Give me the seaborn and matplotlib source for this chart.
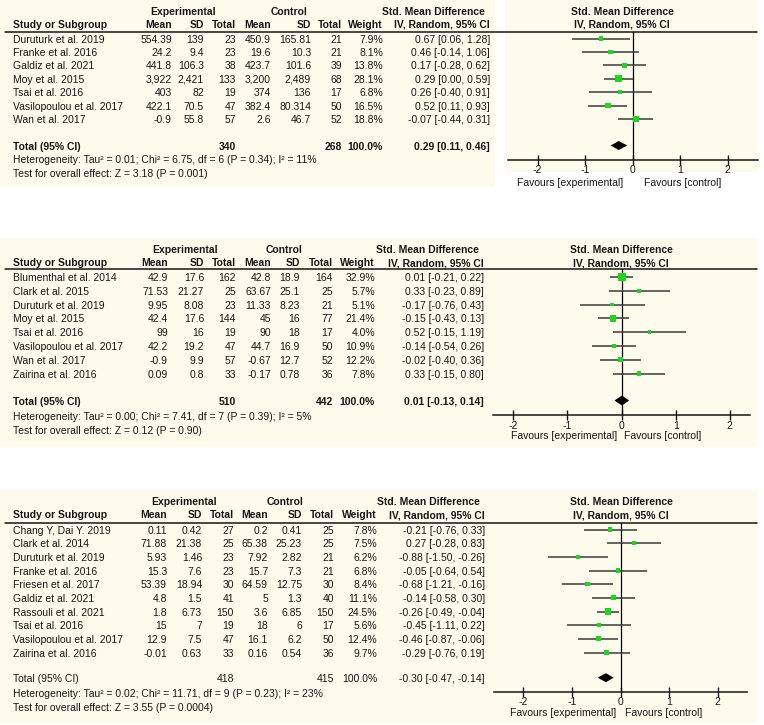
import matplotlib
matplotlib.use("Agg")
import matplotlib.pyplot as plt
from matplotlib.patches import Rectangle
import pandas as pd
import seaborn as sns

# ---------------------------------------------------------------------------
# Data
# ---------------------------------------------------------------------------
# Panel 1
p1_study = ["Duruturk et al. 2019", "Franke et al. 2016", "Galdiz et al. 2021",
            "Moy et al. 2015", "Tsai et al. 2016", "Vasilopoulou et al. 2017",
            "Wan et al. 2017"]
p1_exp_mean = ["554.39", "24.2", "441.8", "3,922", "403", "422.1", "-0.9"]
p1_exp_sd = ["139", "9.4", "106.3", "2,421", "82", "70.5", "55.8"]
p1_exp_n = [23, 23, 38, 133, 19, 47, 57]
p1_ctl_mean = ["450.9", "19.6", "423.7", "3,200", "374", "382.4", "2.6"]
p1_ctl_sd = ["165.81", "10.3", "101.6", "2,489", "136", "80.314", "46.7"]
p1_ctl_n = [21, 21, 39, 68, 17, 50, 52]
p1_weight = [7.9, 8.1, 13.8, 28.1, 6.8, 16.5, 18.8]
p1_smd = [0.67, 0.46, 0.17, 0.29, 0.26, 0.52, -0.07]
p1_lo = [0.06, -0.14, -0.28, 0.00, -0.40, 0.11, -0.44]
p1_hi = [1.28, 1.06, 0.62, 0.59, 0.91, 0.93, 0.31]
p1_total_n = [340, 268]
p1_pooled = [0.29, 0.11, 0.46]
p1_het = "Heterogeneity: Tau² = 0.01; Chi² = 6.75, df = 6 (P = 0.34); I² = 11%"
p1_test = "Test for overall effect: Z = 3.18 (P = 0.001)"
# in the source the forest of panel 1 is drawn mirrored around zero
p1_sign = -1

# Panel 2
p2_study = ["Blumenthal et al. 2014", "Clark et al. 2015", "Duruturk et al. 2019",
            "Moy et al. 2015", "Tsai et al. 2016", "Vasilopoulou et al. 2017",
            "Wan et al. 2017", "Zairina et al. 2016"]
p2_exp_mean = ["42.9", "71.53", "9.95", "42.4", "99", "42.2", "-0.9", "0.09"]
p2_exp_sd = ["17.6", "21.27", "8.08", "17.6", "16", "19.2", "9.9", "0.8"]
p2_exp_n = [162, 25, 23, 144, 19, 47, 57, 33]
p2_ctl_mean = ["42.8", "63.67", "11.33", "45", "90", "44.7", "-0.67", "-0.17"]
p2_ctl_sd = ["18.9", "25.1", "8.23", "16", "18", "16.9", "12.7", "0.78"]
p2_ctl_n = [164, 25, 21, 77, 17, 50, 52, 36]
p2_weight = [32.9, 5.7, 5.1, 21.4, 4.0, 10.9, 12.2, 7.8]
p2_smd = [0.01, 0.33, -0.17, -0.15, 0.52, -0.14, -0.02, 0.33]
p2_lo = [-0.21, -0.23, -0.76, -0.43, -0.15, -0.54, -0.40, -0.15]
p2_hi = [0.22, 0.89, 0.43, 0.13, 1.19, 0.26, 0.36, 0.80]
p2_total_n = [510, 442]
p2_pooled = [0.01, -0.13, 0.14]
p2_het = "Heterogeneity: Tau² = 0.00; Chi² = 7.41, df = 7 (P = 0.39); I² = 5%"
p2_test = "Test for overall effect: Z = 0.12 (P = 0.90)"
p2_sign = 1

# Panel 3
p3_study = ["Chang Y, Dai Y. 2019", "Clark et al. 2014", "Duruturk et al. 2019",
            "Franke et al. 2016", "Friesen et al. 2017", "Galdiz et al. 2021",
            "Rassouli et al. 2021", "Tsai et al. 2016", "Vasilopoulou et al. 2017",
            "Zairina et al. 2016"]
p3_exp_mean = ["0.11", "71.88", "5.93", "15.3", "53.39", "4.8", "1.8", "15", "12.9", "-0.01"]
p3_exp_sd = ["0.42", "21.38", "1.46", "7.6", "18.94", "1.5", "6.73", "7", "7.5", "0.63"]
p3_exp_n = [27, 25, 23, 23, 30, 41, 150, 19, 47, 33]
p3_ctl_mean = ["0.2", "65.38", "7.92", "15.7", "64.59", "5", "3.6", "18", "16.1", "0.16"]
p3_ctl_sd = ["0.41", "25.23", "2.82", "7.3", "12.75", "1.3", "6.85", "6", "6.2", "0.54"]
p3_ctl_n = [25, 25, 21, 21, 30, 40, 150, 17, 50, 36]
p3_weight = [7.8, 7.5, 6.2, 6.8, 8.4, 11.1, 24.5, 5.6, 12.4, 9.7]
p3_smd = [-0.21, 0.27, -0.88, -0.05, -0.68, -0.14, -0.26, -0.45, -0.46, -0.29]
p3_lo = [-0.76, -0.28, -1.50, -0.64, -1.21, -0.58, -0.49, -1.11, -0.87, -0.76]
p3_hi = [0.33, 0.83, -0.26, 0.54, -0.16, 0.30, -0.04, 0.22, -0.06, 0.19]
p3_total_n = [418, 415]
p3_pooled = [-0.30, -0.47, -0.14]
p3_het = "Heterogeneity: Tau² = 0.02; Chi² = 11.71, df = 9 (P = 0.23); I² = 23%"
p3_test = "Test for overall effect: Z = 3.55 (P = 0.0004)"
p3_sign = 1

TICKS = [-2, -1, 0, 1, 2]

# ---------------------------------------------------------------------------
# Layout in pixels (figure is 764 x 725)
# ---------------------------------------------------------------------------
W, H = 764, 725
CREAM = "#fdfcec"
INK = "#161616"
GREEN = "#22d322"
FS = 7.5

LAYOUT = [
    dict(cream=[(0, 0, 495, 187), (505, 0, 253, 172)],
         head1=11.5, head2=24.5, line=31.5, row0=38.5, step=13.4, total=145.5,
         het=160, test=173.5, axis=159.5, fav=182.5, x0=632.5, unit=47.5,
         ax_l=508, ax_r=758, cols=[172, 204, 236, 271, 311, 342, 383, 490],
         exp_c=183, ctl_c=289.5, smd_c=622, fav_r=623, fav_l=644,
         bold_total=True, dh=4.5),
    dict(cream=[(0, 238, 757, 209)],
         head1=250, head2=263, line=269.3, row0=277, step=13.8, total=400.5,
         het=417, test=431, axis=415, fav=436, x0=621.5, unit=54.15,
         ax_l=493, ax_r=750, cols=[168, 204, 236, 271, 300, 333, 375, 484],
         exp_c=185, ctl_c=284.5, smd_c=621, fav_r=617, fav_l=624,
         bold_total=True, dh=5),
    dict(cream=[(0, 490, 757, 233)],
         head1=501.7, head2=515.3, line=522.5, row0=529.5, step=13.67, total=677.7,
         het=694.3, test=707.7, axis=691.7, fav=713.3, x0=620.5, unit=48.6,
         ax_l=494, ax_r=747, cols=[167, 202, 234, 268, 302, 334, 377, 485],
         exp_c=184.5, ctl_c=285, smd_c=621, fav_r=616, fav_l=625,
         bold_total=False, dh=4.5),
]


def marker_area(w):
    # square area (pt^2) grows with study weight, with a minimum visible size
    return 3.2 + 0.79 * w


def panel_frame(study, exp_mean, exp_sd, exp_n, ctl_mean, ctl_sd, ctl_n,
                weight, smd, lo, hi, sign):
    df = pd.DataFrame({
        "study": study, "exp_mean": exp_mean, "exp_sd": exp_sd, "exp_n": exp_n,
        "ctl_mean": ctl_mean, "ctl_sd": ctl_sd, "ctl_n": ctl_n,
        "weight": weight, "smd": smd, "lo": lo, "hi": hi,
    })
    # plotted positions (panel 1 is mirrored in the source)
    if sign < 0:
        df["x"] = -df["smd"]
        df["x_lo"] = -df["hi"]
        df["x_hi"] = -df["lo"]
    else:
        df["x"] = df["smd"]
        df["x_lo"] = df["lo"]
        df["x_hi"] = df["hi"]
    return df


PANELS = [
    (panel_frame(p1_study, p1_exp_mean, p1_exp_sd, p1_exp_n, p1_ctl_mean, p1_ctl_sd,
                 p1_ctl_n, p1_weight, p1_smd, p1_lo, p1_hi, p1_sign),
     p1_total_n, p1_pooled, p1_het, p1_test, p1_sign),
    (panel_frame(p2_study, p2_exp_mean, p2_exp_sd, p2_exp_n, p2_ctl_mean, p2_ctl_sd,
                 p2_ctl_n, p2_weight, p2_smd, p2_lo, p2_hi, p2_sign),
     p2_total_n, p2_pooled, p2_het, p2_test, p2_sign),
    (panel_frame(p3_study, p3_exp_mean, p3_exp_sd, p3_exp_n, p3_ctl_mean, p3_ctl_sd,
                 p3_ctl_n, p3_weight, p3_smd, p3_lo, p3_hi, p3_sign),
     p3_total_n, p3_pooled, p3_het, p3_test, p3_sign),
]

sns.set_style("white")
plt.rcParams["font.family"] = ["Liberation Sans", "DejaVu Sans"]
plt.rcParams["axes.unicode_minus"] = False

fig = plt.figure(figsize=(W / 100, H / 100), dpi=100)
bg = fig.add_axes([0, 0, 1, 1])
bg.set_xlim(0, W)
bg.set_ylim(H, 0)
bg.axis("off")


def txt(x, y, s, ha="right", bold=False, **kw):
    bg.text(x, y, s, ha=ha, va="center", fontsize=FS, color=INK,
            fontweight="bold" if bold else "normal", **kw)


for lay, (df, total_n, pooled, het, test, sign) in zip(LAYOUT, PANELS):
    for (x, y, w, h) in lay["cream"]:
        bg.add_patch(Rectangle((x, y), w, h, facecolor=CREAM, edgecolor="none", zorder=0))

    c = lay["cols"]
    # header
    txt(lay["exp_c"], lay["head1"], "Experimental", ha="center", bold=True)
    txt(lay["ctl_c"], lay["head1"], "Control", ha="center", bold=True)
    txt(c[7] - 5, lay["head1"], "Std. Mean Difference", bold=True)
    txt(13, lay["head2"], "Study or Subgroup", ha="left", bold=True)
    for col, name in zip(c[:7], ["Mean", "SD", "Total", "Mean", "SD", "Total", "Weight"]):
        txt(col, lay["head2"], name, bold=True)
    txt(c[7], lay["head2"], "IV, Random, 95% CI", bold=True)
    txt(lay["smd_c"], lay["head1"], "Std. Mean Difference", ha="center", bold=True)
    txt(lay["smd_c"], lay["head2"], "IV, Random, 95% CI", ha="center", bold=True)
    bg.plot([5, 757], [lay["line"], lay["line"]], color=INK, lw=1.1, zorder=2)

    # study rows
    rows_y = [lay["row0"] + i * lay["step"] for i in range(len(df))]
    df["y"] = rows_y
    for _, r in df.iterrows():
        ty = r["y"] + 1
        txt(13, ty, r["study"], ha="left")
        vals = [r["exp_mean"], r["exp_sd"], str(r["exp_n"]), r["ctl_mean"],
                r["ctl_sd"], str(r["ctl_n"]), f"{r['weight']:.1f}%",
                f"{r['smd']:.2f} [{r['lo']:.2f}, {r['hi']:.2f}]"]
        for col, v in zip(c, vals):
            txt(col, ty, v)

    # total rows
    bt = lay["bold_total"]
    ty = lay["total"] + 1
    txt(13, ty, "Total (95% CI)", ha="left", bold=bt)
    txt(c[2], ty, str(total_n[0]), bold=bt)
    txt(c[5], ty, str(total_n[1]), bold=bt)
    txt(c[6], ty, "100.0%", bold=bt)
    txt(c[7], ty, f"{pooled[0]:.2f} [{pooled[1]:.2f}, {pooled[2]:.2f}]", bold=bt)
    txt(13, lay["het"], het, ha="left")
    txt(13, lay["test"], test, ha="left")

    # forest plot
    top, bot = lay["line"], lay["axis"]
    ax = fig.add_axes([lay["ax_l"] / W, 1 - bot / H,
                       (lay["ax_r"] - lay["ax_l"]) / W, (bot - top) / H])
    ax.patch.set_visible(False)
    ax.set_xlim((lay["ax_l"] - lay["x0"]) / lay["unit"],
                (lay["ax_r"] - lay["x0"]) / lay["unit"])
    ax.set_ylim(bot, top)
    for s in ["top", "left", "right"]:
        ax.spines[s].set_visible(False)
    ax.spines["bottom"].set_color(INK)
    ax.spines["bottom"].set_linewidth(1.1)
    ax.axvline(0, color="black", lw=0.9, zorder=1)

    ax.hlines(df["y"], df["x_lo"], df["x_hi"], color="#3a3a3a", lw=1.1, zorder=2)
    wmin, wmax = df["weight"].min(), df["weight"].max()
    sns.scatterplot(data=df, x="x", y="y", size="weight",
                    sizes=(marker_area(wmin), marker_area(wmax)), marker="s",
                    color=GREEN, edgecolor="none", linewidth=0, legend=False,
                    ax=ax, zorder=3)

    est, lo, hi = pooled
    if sign < 0:
        est, lo, hi = -est, -hi, -lo
    yd, dh = lay["total"], lay["dh"]
    ax.fill([lo, est, hi, est], [yd, yd - dh, yd, yd + dh], color="black",
            lw=0, zorder=3)

    ax.set_xticks(TICKS)
    ax.set_xticklabels([str(t) for t in TICKS])
    ax.tick_params(axis="x", direction="inout", length=7, width=1.0,
                   color=INK, labelsize=FS, labelcolor=INK, pad=0.5, bottom=True)
    ax.set_yticks([])
    ax.set_xlabel("")
    ax.set_ylabel("")

    txt(lay["fav_r"], lay["fav"], "Favours [experimental]")
    txt(lay["fav_l"], lay["fav"], "Favours [control]", ha="left")

fig.savefig("out.png", dpi=100)
